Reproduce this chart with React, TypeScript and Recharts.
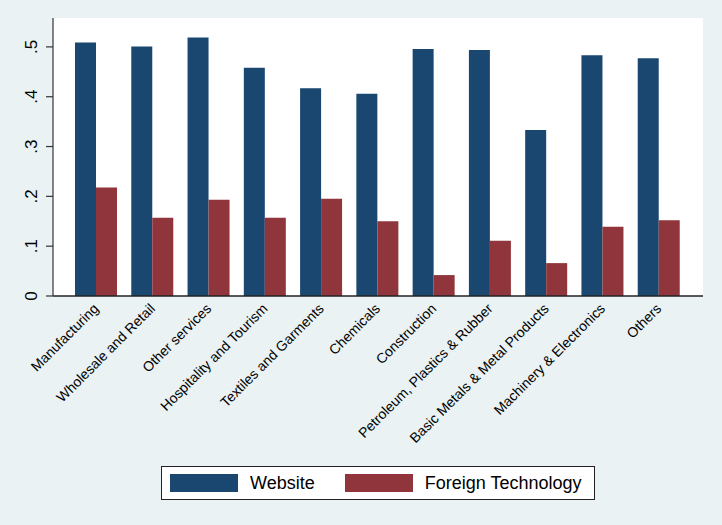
import React from "react";
import {
  BarChart,
  Bar,
  XAxis,
  YAxis,
  CartesianGrid,
  Legend,
} from "recharts";

const sectors = [
  "Manufacturing",
  "Wholesale and Retail",
  "Other services",
  "Hospitality and Tourism",
  "Textiles and Garments",
  "Chemicals",
  "Construction",
  "Petroleum, Plastics & Rubber",
  "Basic Metals & Metal Products",
  "Machinery & Electronics",
  "Others",
];
const website = [0.509, 0.501, 0.519, 0.458, 0.417, 0.406, 0.496, 0.494, 0.333, 0.483, 0.477];
const foreignTech = [0.218, 0.157, 0.193, 0.157, 0.195, 0.150, 0.042, 0.111, 0.066, 0.139, 0.152];
const yTicks = [0, 0.1, 0.2, 0.3, 0.4, 0.5];

const data = sectors.map((name, i) => ({
  name,
  website: website[i],
  foreign: foreignTech[i],
}));

const FONT = "'Liberation Sans', Arial, sans-serif";
const NAVY = "#1a476f";
const MAROON = "#90353b";
const BG = "#eaf2f3";

const fmtY = (v: number) => (v === 0 ? "0" : v.toFixed(1).replace(/^0/, ""));

const YTick = (props: any) => {
  const { x, y, payload } = props;
  return (
    <text
      x={x}
      y={y}
      transform={`rotate(-90, ${x}, ${y})`}
      textAnchor="middle"
      fontSize={17}
      fontFamily={FONT}
      fill="#000"
    >
      {fmtY(payload.value)}
    </text>
  );
};

const XTick = (props: any) => {
  const { x, y, payload } = props;
  return (
    <text
      x={x}
      y={y}
      dy="0.35em"
      transform={`rotate(-45, ${x}, ${y})`}
      textAnchor="end"
      fontSize={14}
      fontFamily={FONT}
      fill="#000"
    >
      {payload.value}
    </text>
  );
};

const items = [
  { label: "Website", color: NAVY },
  { label: "Foreign Technology", color: MAROON },
];

const LegendBox = () => (
  <div
    style={{
      boxSizing: "border-box",
      width: 434,
      height: 34,
      border: "1.5px solid #222",
      background: "#fff",
      display: "flex",
      alignItems: "center",
      paddingLeft: 8,
      fontFamily: FONT,
      fontSize: 18,
      color: "#000",
    }}
  >
    {items.map((it, i) => (
      <div
        key={it.label}
        style={{ display: "flex", alignItems: "center", marginLeft: i ? 30 : 0 }}
      >
        <div style={{ width: 68, height: 18, background: it.color }} />
        <span style={{ marginLeft: 12 }}>{it.label}</span>
      </div>
    ))}
  </div>
);

const App: React.FC = () => {
  document.body.style.margin = "0";
  return (
    <div style={{ width: 722, height: 525, background: BG }}>
      <BarChart
        width={722}
        height={525}
        data={data}
        margin={{ top: 18, right: 19, left: 0, bottom: 0 }}
        barCategoryGap={7}
        barGap={0}
      >
        <rect x={53} y={18} width={650} height={278} fill="#fff" />
        <CartesianGrid vertical={false} stroke={BG} strokeWidth={1.2} />
        <XAxis
          dataKey="name"
          interval={0}
          height={229}
          tickLine={false}
          axisLine={{ stroke: "#222", strokeWidth: 1.5 }}
          tick={<XTick />}
          tickMargin={4}
          padding={{ left: 15, right: 16 }}
        />
        <YAxis
          width={53}
          domain={[0, 0.558]}
          ticks={yTicks}
          allowDataOverflow
          tickSize={7}
          tickMargin={9}
          tickLine={{ stroke: "#333", strokeWidth: 1.2 }}
          axisLine={{ stroke: "#333", strokeWidth: 1.2 }}
          tick={<YTick />}
        />
        <Legend
          layout="horizontal"
          verticalAlign="middle"
          align="center"
          wrapperStyle={{ left: 161, top: 466, width: 434, height: 34 }}
          content={<LegendBox />}
        />
        <Bar dataKey="website" fill={NAVY} isAnimationActive={false} />
        <Bar dataKey="foreign" fill={MAROON} isAnimationActive={false} />
      </BarChart>
    </div>
  );
};

export default App;
